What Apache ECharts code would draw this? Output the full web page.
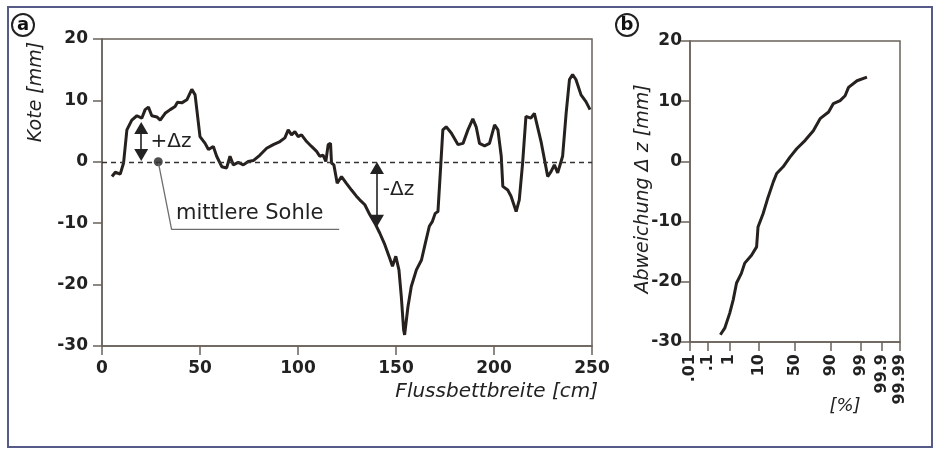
<!DOCTYPE html>
<html>
<head>
<meta charset="utf-8">
<script src="https://cdn.jsdelivr.net/npm/echarts@6/dist/echarts.min.js"></script>
<style>
  html, body { margin: 0; padding: 0; background: #fff; }
  #main { width: 938px; height: 450px; }
</style>
</head>
<body>
<div id="main"></div>
<script>
// (a) Querprofil: Flussbettbreite [cm] / Kote [mm]
var breite = [5.1, 6.8, 9.3, 11, 12.7, 15.2, 17.8, 20.3, 22, 23.7, 25.4, 28, 29.7, 32.2, 34.8, 37.3, 38.5, 40.7, 43.3, 45.8,
  47.5, 50, 52.6, 54.3, 56.8, 58.5, 61.1, 63.6, 65.3, 67, 69.5, 72.1, 74.6, 77.2, 80.6, 84, 87.4, 90.8, 93.3, 95,
  96.7, 98.4, 100.1, 101.8, 104.4, 106.9, 109.5, 111.1, 112.8, 114.2, 115.4, 116.6, 117.1, 118.3, 120, 122.2, 124.7, 127.3, 129.8, 131.5,
  134.1, 136.6, 139.2, 141.7, 144.3, 146.8, 148.2, 149.9, 151.5, 152.7, 153.9, 154.4, 156.1, 157.8, 160.4, 163, 165, 167, 168.6, 170,
  171.4, 172.6, 173.9, 175.6, 178.2, 181.6, 184.2, 186.7, 189.2, 190.9, 192.6, 195.2, 197.7, 200.3, 202, 203.7, 204.5, 207, 208.7, 211.3,
  212.9, 214.6, 216.3, 218.8, 220.6, 221.4, 224, 227.4, 229.1, 230.8, 232.5, 235, 236.8, 238.5, 240.1, 241.8, 244.4, 246.9, 249];
var kote = [-2.4, -1.7, -2.0, -0.2, 5.2, 6.8, 7.5, 7.1, 8.5, 8.9, 7.5, 7.3, 6.8, 7.9, 8.5, 9.0, 9.7, 9.6, 10.1, 11.8,
  10.9, 4.1, 3.0, 2.0, 2.5, 0.9, -0.8, -1.0, 0.9, -0.5, -0.1, -0.5, 0.05, 0.2, 1.1, 2.2, 2.8, 3.3, 3.9, 5.2,
  4.4, 4.9, 4.1, 4.4, 3.3, 2.5, 1.7, 0.9, 1.1, 0.05, 2.8, 3.0, -0.2, -0.5, -3.5, -2.4, -3.5, -4.6, -5.6, -6.2,
  -7.0, -8.6, -10, -11.6, -13.5, -15.7, -17.0, -15.4, -17.6, -21.9, -27.4, -28.2, -23.6, -20.3, -17.6, -16, -13.2, -10.5, -9.7, -8.4,
  -8.1, -1.8, 5.2, 5.7, 4.7, 2.8, 3.0, 5.2, 7.0, 5.7, 3.0, 2.6, 3.0, 6.0, 5.2, 0.9, -4.0, -4.6, -5.6, -8.1,
  -6.2, -0.2, 7.4, 7.1, 7.9, 6.8, 3.3, -2.4, -1.6, -0.5, -1.8, 0.9, 7.9, 13.4, 14.2, 13.4, 10.9, 9.8, 8.5];

// (b) Summenhaeufigkeit [%] / Abweichung dz [mm]
var summe = [0.41, 0.64, 1.04, 1.43, 1.92, 2.87, 3.75, 6.18, 8.69, 9.51, 12.9, 17.1, 22.1, 25.8, 33.7, 42.9, 52.4, 64.1, 74.2, 81.3,
  88.3, 91.3, 94.5, 96.2, 97.1, 98.6, 99.46];
var abweichung = [-28.8, -27.7, -25.2, -23, -20.2, -18.6, -16.9, -15.6, -14.2, -10.9, -8.7, -5.9, -3.4, -2.0, -0.9, 0.7, 2.1, 3.5, 5.1, 7.1,
  8.2, 9.6, 10.1, 10.9, 12.3, 13.4, 14.0];

var probTicks = [0.01, 0.1, 1, 10, 50, 90, 99, 99.9, 99.99];
var probLabels = ['.01', '.1', '1', '10', '50', '90', '99', '99.9', '99.99'];

// inverse normal cdf (Acklam)
function probit(p) {
  var a = [-39.6968302866538, 220.946098424521, -275.928510446969, 138.357751867269, -30.6647980661472, 2.50662827745924];
  var b = [-54.4760987982241, 161.585836858041, -155.698979859887, 66.8013118877197, -13.2806815528857];
  var c = [-0.00778489400243029, -0.322396458041136, -2.40075827716184, -2.54973253934373, 4.37466414146497, 2.93816398269878];
  var d = [0.00778469570904146, 0.32246712907004, 2.445134137143, 3.75440866190742];
  var q, r;
  if (p < 0.02425) {
    q = Math.sqrt(-2 * Math.log(p));
    return (((((c[0] * q + c[1]) * q + c[2]) * q + c[3]) * q + c[4]) * q + c[5]) / ((((d[0] * q + d[1]) * q + d[2]) * q + d[3]) * q + 1);
  }
  if (p > 1 - 0.02425) {
    q = Math.sqrt(-2 * Math.log(1 - p));
    return -(((((c[0] * q + c[1]) * q + c[2]) * q + c[3]) * q + c[4]) * q + c[5]) / ((((d[0] * q + d[1]) * q + d[2]) * q + d[3]) * q + 1);
  }
  q = p - 0.5; r = q * q;
  return (((((a[0] * r + a[1]) * r + a[2]) * r + a[3]) * r + a[4]) * r + a[5]) * q / (((((b[0] * r + b[1]) * r + b[2]) * r + b[3]) * r + b[4]) * r + 1);
}

var profil = breite.map(function (x, i) { return [x, kote[i]]; });
var verteilung = summe.map(function (p, i) { return [probit(p / 100), abweichung[i]]; });
var probPos = probTicks.map(function (p) { return probit(p / 100); });

var font = 'DejaVu Sans';
var ink = '#26211e';
var frame = '#6a625a';

var chartDom = document.getElementById('main');
var myChart = echarts.init(chartDom);
var option;

function axisBase(margin) {
  return {
    axisLine: { show: true, onZero: false, lineStyle: { color: frame, width: 1.5 } },
    axisTick: { show: true, inside: false, length: 9, lineStyle: { color: frame, width: 1.5 } },
    splitLine: { show: false },
    axisLabel: { color: '#222', fontFamily: font, fontWeight: 'bold', fontSize: 17, margin: margin }
  };
}

option = {
  animation: false,
  backgroundColor: '#fff',
  grid: [
    { left: 102, right: 346, top: 39, bottom: 104, show: true, borderColor: frame, borderWidth: 1.5, backgroundColor: 'transparent' },
    { left: 690, right: 38, top: 41, bottom: 108, show: true, borderColor: frame, borderWidth: 1.5, backgroundColor: 'transparent' }
  ],
  xAxis: [
    Object.assign(axisBase(14), { type: 'value', gridIndex: 0, min: 0, max: 250, interval: 50 }),
    Object.assign(axisBase(12), {
      type: 'value', gridIndex: 1, min: probit(0.0001), max: probit(0.9999),
      axisTick: { show: true, length: 9, customValues: probPos, lineStyle: { color: frame, width: 1.5 } },
      axisLabel: {
        color: '#222', fontFamily: font, fontWeight: 'bold', fontSize: 16, rotate: 90, margin: 12,
        customValues: probPos,
        formatter: function (v) {
          var best = 0;
          probPos.forEach(function (z, i) { if (Math.abs(z - v) < Math.abs(probPos[best] - v)) best = i; });
          return probLabels[best];
        }
      }
    })
  ],
  yAxis: [
    Object.assign(axisBase(14), { type: 'value', gridIndex: 0, min: -30, max: 20, interval: 10 }),
    Object.assign(axisBase(8), { type: 'value', gridIndex: 1, min: -30, max: 20, interval: 10 })
  ],
  series: [
    {
      type: 'line', xAxisIndex: 0, yAxisIndex: 0, data: profil, showSymbol: false, silent: true,
      lineStyle: { color: ink, width: 3 },
      markLine: {
        silent: true, symbol: ['none', 'none'], label: { show: false },
        data: [{ yAxis: 0, lineStyle: { type: [5, 4], width: 1.3, color: '#333' } }]
      }
    },
    {
      // Pfeile +dz / -dz
      type: 'line', xAxisIndex: 0, yAxisIndex: 0, data: [], silent: true,
      markLine: {
        silent: true, symbol: ['triangle', 'triangle'], symbolSize: [14, 12], label: { show: false },
        lineStyle: { color: '#222', width: 1.6, type: 'solid' },
        data: [
          [{ coord: [20, 1.1] }, { coord: [20, 5.5] }],
          [{ coord: [140.3, -1.0] }, { coord: [140.3, -9.6] }]
        ]
      },
      markPoint: {
        symbol: 'circle', symbolSize: 1, silent: true,
        itemStyle: { color: 'transparent' },
        label: { show: true, position: 'right', distance: 0, color: '#222', fontFamily: font, fontSize: 20 },
        data: [
          { coord: [24.5, 3.2], label: { formatter: '+Δz' } },
          { coord: [143, -4.6], label: { formatter: '-Δz' } },
          { coord: [37.5, -8.5], label: { formatter: 'mittlere Sohle', fontSize: 21 } }
        ]
      }
    },
    {
      // Hinweislinie mittlere Sohle
      type: 'line', xAxisIndex: 0, yAxisIndex: 0, silent: true, showSymbol: false,
      data: [[28.7, 0], [35.5, -11], [121, -11]],
      lineStyle: { color: '#6d6d6d', width: 1.3 }
    },
    {
      type: 'scatter', xAxisIndex: 0, yAxisIndex: 0, silent: true,
      data: [[28.7, 0]], symbolSize: 9, itemStyle: { color: '#222' }
    },
    {
      type: 'line', xAxisIndex: 1, yAxisIndex: 1, data: verteilung, showSymbol: false, silent: true,
      lineStyle: { color: ink, width: 3 }
    }
  ],
  graphic: [
    { type: 'rect', shape: { x: 8, y: 7, width: 924, height: 440 }, style: { fill: 'none', stroke: '#565a86', lineWidth: 2 } },
    { type: 'circle', shape: { cx: 23, cy: 25, r: 11 }, style: { fill: '#fff', stroke: '#222', lineWidth: 2 } },
    { type: 'text', x: 23, y: 25, style: { text: 'a', font: 'bold 18px "DejaVu Sans"', fill: '#111', align: 'center', verticalAlign: 'middle' } },
    { type: 'circle', shape: { cx: 627, cy: 25, r: 11 }, style: { fill: '#fff', stroke: '#222', lineWidth: 2 } },
    { type: 'text', x: 627, y: 25, style: { text: 'b', font: 'bold 18px "DejaVu Sans"', fill: '#111', align: 'center', verticalAlign: 'middle' } },
    { type: 'text', x: 36, y: 92, rotation: Math.PI / 2, style: { text: 'Kote [mm]', font: 'italic 19px "DejaVu Sans"', fill: '#222', align: 'center', verticalAlign: 'middle' } },
    { type: 'text', x: 643, y: 189, rotation: Math.PI / 2, style: { text: 'Abweichung Δ z [mm]', font: 'italic 19px "DejaVu Sans"', fill: '#222', align: 'center', verticalAlign: 'middle' } },
    { type: 'text', x: 598, y: 392, style: { text: 'Flussbettbreite [cm]', font: 'italic 20px "DejaVu Sans"', fill: '#222', align: 'right', verticalAlign: 'middle' } },
    { type: 'text', x: 845, y: 406, style: { text: '[%]', font: 'italic 18px "DejaVu Sans"', fill: '#222', align: 'center', verticalAlign: 'middle' } }
  ]
};

option && myChart.setOption(option);
</script>
</body>
</html>
